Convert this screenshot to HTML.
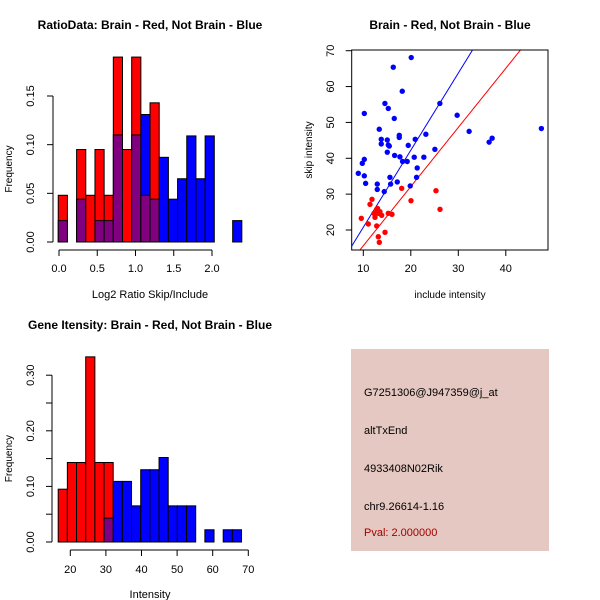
<!DOCTYPE html>
<html><head><meta charset="utf-8"><style>
body{margin:0;background:#fff}
svg{display:block;font-family:"Liberation Sans",sans-serif}
</style></head><body>
<svg id="s" width="600" height="600" viewBox="0 0 600 600">
<rect width="600" height="600" fill="#fff"/>
<g>
<rect x="351" y="349" width="198" height="202" fill="#e5c8c1"/>
<text x="364" y="396" font-size="11" fill="#000">G7251306@J947359@j_at</text>
<text x="364" y="434" font-size="11" fill="#000">altTxEnd</text>
<text x="364" y="472" font-size="11" fill="#000">4933408N02Rik</text>
<text x="364" y="510" font-size="11" fill="#000">chr9.26614-1.16</text>
<text x="364" y="536" font-size="11" fill="#a00000">Pval: 2.000000</text>
</g>
</svg>
<script>
// Panel 1 data
const h1Start=-0.01, h1Width=0.12;
const h1Red=[0.048,0,0.095,0.048,0.095,0.048,0.19,0.095,0.19,0.048,0.143,0,0,0,0,0,0,0,0,0];
const h1Blue=[0.022,0,0.044,0,0.022,0.022,0.11,0,0.11,0.131,0.044,0.087,0.044,0.065,0.109,0.065,0.109,0,0,0.022];
const h1XTicks=[0,0.5,1.0,1.5,2.0];
const h1XLabels=["0.0","0.5","1.0","1.5","2.0"];
const h1YTicks=[0,0.05,0.10,0.15];
const h1YLabels=["0.00","0.05","0.10","0.15"];
// Panel 3 data
const h3Start=16.6, h3Width=2.575;
const h3Red=[0.095,0.143,0.143,0.333,0.143,0.143,0,0,0,0,0,0,0,0,0,0,0,0,0,0];
const h3Blue=[0,0,0,0,0,0.043,0.109,0.109,0.065,0.13,0.13,0.152,0.065,0.065,0.065,0,0.022,0,0.022,0.022];
const h3XTicks=[20,30,40,50,60,70];
const h3YTicks=[0,0.05,0.10,0.15,0.20,0.25,0.30];
const h3YLabels=["0.00","","0.10","","0.20","","0.30"];
// Panel 2 data
const redX=[11.83,11.41,18.08,20.04,25.3,26.15,12.82,12.25,13.5,13.87,15.26,16.04,9.58,12.46,11.05,12.82,13.16,14.57,13.37,13.16,13.0];
const redY=[28.56,27.17,31.63,28.18,30.96,25.77,25.77,24.65,25.1,24.1,24.65,24.38,23.26,23.54,21.67,21.12,18.13,19.36,16.57,24.65,26.0];
const blueX=[8.95,9.79,10.21,10.21,10.21,10.49,12.94,12.94,13.36,13.78,13.78,14.55,15.05,15.05,15.26,15.26,15.47,15.61,15.75,14.41,16.31,16.52,16.59,17.15,17.57,17.57,17.71,18.2,18.27,19.25,19.46,19.88,20.09,20.72,20.93,21.21,21.35,22.75,23.17,25.07,26.12,29.76,32.28,36.49,37.12,47.49];
const blueY=[35.8,38.6,39.7,52.5,35.1,33.0,32.8,31.3,48.1,45.3,44.0,55.3,45.1,41.7,53.9,43.7,43.4,34.7,32.8,30.7,65.4,51.1,40.8,33.4,46.4,45.8,40.4,58.7,39.1,39.1,43.6,32.3,68.1,40.3,45.3,34.7,37.3,40.3,46.7,42.5,55.3,52.0,47.5,44.5,45.6,48.3];
const blueLine=[2.15,-0.75]; // slope, intercept
const redLine=[1.65,-0.9];
const sXTicks=[10,20,30,40];
const sYTicks=[20,30,40,50,60,70];

const NS="http://www.w3.org/2000/svg", svg=document.getElementById('s');
function el(t,a,p){const e=document.createElementNS(NS,t);for(const k in a)e.setAttribute(k,a[k]);(p||svg).appendChild(e);return e;}
function txt(x,y,s,o,p){const e=el('text',Object.assign({x:x,y:y,'font-size':11,'text-anchor':'middle',fill:'#000'},o||{}),p);e.textContent=s;return e;}

function hist(name,start,w,red,blue,sx,sy,xt,xl,yt,yl,axY,axX,tickLY,ylabX,title,titleY,xlab,xlabY){
  const g=el('g',{});
  
  
  for(let i=0;i<red.length;i++){
    const x0=sx(start+i*w), x1=sx(start+(i+1)*w);
    const r=red[i], b=blue[i], mx=Math.max(r,b), mn=Math.min(r,b);
    if(mx<=0) continue;
    const top=el('rect',{x:x0,y:sy(mx),width:x1-x0,height:sy(0)-sy(mx),fill:r>=b?'#ff0000':'#0000ff',stroke:'#000','stroke-width':1},g);
    
    
    if(mn>0){
      const ov=el('rect',{x:x0,y:sy(mn),width:x1-x0,height:sy(0)-sy(mn),fill:'#800080',stroke:'#000','stroke-width':1},g);
      
      
    }
  }
  const xa=el('g',{},g);
  
  
  el('line',{x1:sx(xt[0]),x2:sx(xt[xt.length-1]),y1:axY,y2:axY,stroke:'#000'},xa);
  xt.forEach((v,i)=>{el('line',{x1:sx(v),x2:sx(v),y1:axY,y2:axY+6,stroke:'#000'},xa);const t=txt(sx(v),tickLY,xl[i],{},xa);});
  const ya=el('g',{},g);
  
  
  el('line',{x1:axX,x2:axX,y1:sy(yt[0]),y2:sy(yt[yt.length-1]),stroke:'#000'},ya);
  yt.forEach((v,i)=>{el('line',{x1:axX,x2:axX-6,y1:sy(v),y2:sy(v),stroke:'#000'},ya);if(yl[i]){const t=txt(ylabX,sy(v),yl[i],{transform:`rotate(-90 ${ylabX} ${sy(v)})`},ya);}});
  const tt=txt(150,titleY,title,{'font-size':12,'font-weight':'bold'},g);
  
  
  const xlb=txt(150,xlabY,xlab,{},g);
  
  
  const cy=(sy(yt[0])+sy(yt[yt.length-1]))/2;
  const ylb=txt(12,cy,'Frequency',{'font-size':10,transform:`rotate(-90 12 ${cy})`},g);
  
  
}
hist('ratio-histogram',h1Start,h1Width,h1Red,h1Blue,v=>59+v*76.5,f=>242-f*973.3,h1XTicks,h1XLabels,h1YTicks,h1YLabels,250,53,272,34,'RatioData: Brain - Red, Not Brain - Blue',29,'Log2 Ratio Skip/Include',298);
hist('intensity-histogram',h3Start,h3Width,h3Red,h3Blue,v=>70.3+(v-20)*3.56,f=>542-f*556,h3XTicks,h3XTicks.map(String),h3YTicks,h3YLabels,550,52,573,34,'Gene Itensity: Brain - Red, Not Brain - Blue',329,'Intensity',598);

// scatter
const g2=el('g',{});


const px=v=>363.3+(v-10)*4.75, py=v=>230-(v-20)*3.586;
const L=351.7,R=548,T=50,B=250;
el('clipPath',{id:'cp'},g2).appendChild(Object.assign(document.createElementNS(NS,'rect'),{}));
const cpr=g2.querySelector('#cp');
el('rect',{x:L,y:T,width:R-L,height:B-T},cpr);
const xmin=(L-363.3)/4.75+10, xmax=(R-363.3)/4.75+10;
[[blueLine,'#0000ff','blue-fit-line'],[redLine,'#ff0000','red-fit-line']].forEach(([ln,c,n])=>{
  const l=el('line',{x1:px(xmin),y1:py(ln[0]*xmin+ln[1]),x2:px(xmax),y2:py(ln[0]*xmax+ln[1]),stroke:c,'stroke-width':1,'clip-path':'url(#cp)'},g2);
  
  
});
blueX.forEach((v,i)=>{const c=el('circle',{cx:px(v),cy:py(blueY[i]),r:2.7,fill:'#0000ff'},g2);});
redX.forEach((v,i)=>{const c=el('circle',{cx:px(v),cy:py(redY[i]),r:2.7,fill:'#ff0000'},g2);});
const fr=el('rect',{x:L,y:T,width:R-L,height:B-T,fill:'none',stroke:'#000'},g2);


sXTicks.forEach(v=>{el('line',{x1:px(v),x2:px(v),y1:B,y2:B+6,stroke:'#000'},g2);const t=txt(px(v),272,String(v),{},g2);});
sYTicks.forEach(v=>{el('line',{x1:L,x2:L-6,y1:py(v),y2:py(v),stroke:'#000'},g2);const t=txt(334,py(v),String(v),{transform:`rotate(-90 334 ${py(v)})`},g2);});
const st=txt(450,29,'Brain - Red, Not Brain - Blue',{'font-size':12,'font-weight':'bold'},g2);


const sxl=txt(450,298,'include intensity',{'font-size':10},g2);


const syl=txt(312,150,'skip intensity',{'font-size':10,transform:'rotate(-90 312 150)'},g2);


</script>
</body></html>
